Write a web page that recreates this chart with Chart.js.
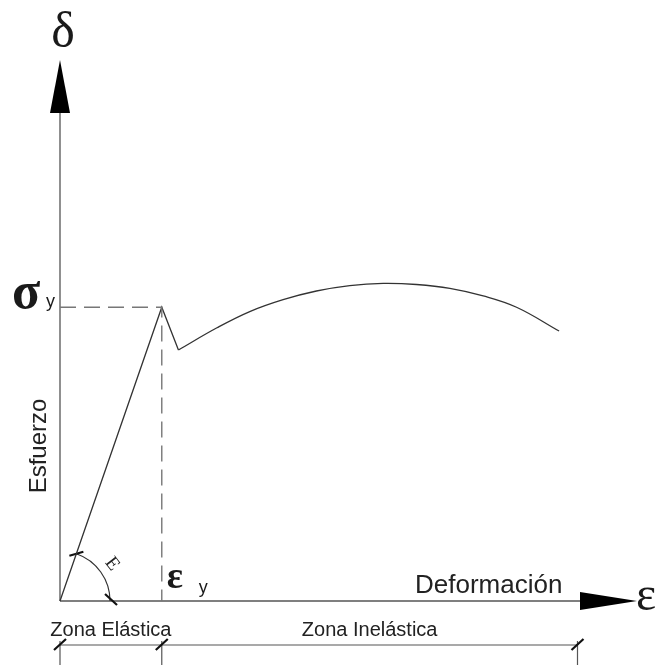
<!DOCTYPE html>
<html>
<head>
<meta charset="utf-8">
<script src="https://cdn.jsdelivr.net/npm/chart.js@4.4.1/dist/chart.umd.min.js"></script>
<style>
html,body{margin:0;padding:0;background:#fff;}
#wrap{width:670px;height:667px;}
</style>
</head>
<body>
<div id="wrap"><canvas id="c" width="670" height="667"></canvas></div>
<script>
// ---- data (schematic units) ----
const strainElastic = [0, 1.77, 2.06];
const stressElastic = [0, 5.43, 4.64];
const strainCurve = [2.06, 2.73, 3.30, 3.88, 4.46, 5.04, 5.62, 6.20, 6.78, 7.36, 7.94, 8.68];
const stressCurve = [4.64, 5.05, 5.35, 5.57, 5.73, 5.83, 5.87, 5.85, 5.78, 5.64, 5.43, 4.99];
const yieldStrain = 1.77;
const yieldStress = 5.43;
const axisEnd = 10;          // arrow tips of both axes
const zoneEnd = 9.0;         // end of inelastic zone
const arcRadius = 0.87;      // radius of the modulus arc (x units)
const labels = {
  yAxisSym: "δ", xAxisSym: "ε", yTitle: "Esfuerzo", xTitle: "Deformación",
  sigma: "σ", epsY: "ε", sub: "y", modulus: "E",
  zoneE: "Zona Elástica", zoneI: "Zona Inelástica"
};

const pts = (xs, ys) => xs.map((x, i) => ({x, y: ys[i]}));

const SANS = '"Liberation Sans", Arial, sans-serif';
const SERIF = '"Liberation Serif", "Times New Roman", serif';

const decor = {
  id: 'decor',
  beforeDatasetsDraw(chart) {
    const ctx = chart.ctx, X = chart.scales.x, Y = chart.scales.y;
    const px = v => X.getPixelForValue(v), py = v => Y.getPixelForValue(v);
    const x0 = px(0), y0 = py(0);
    ctx.save();
    ctx.strokeStyle = '#555';
    ctx.lineWidth = 1.3;
    // axes lines
    ctx.beginPath();
    ctx.moveTo(x0, y0); ctx.lineTo(x0, py(axisEnd) + 40);
    ctx.moveTo(x0, y0); ctx.lineTo(px(axisEnd) - 40, y0);
    ctx.stroke();
    // arrowheads
    ctx.fillStyle = '#000';
    ctx.beginPath();
    ctx.moveTo(x0, py(axisEnd));
    ctx.lineTo(x0 - 10, py(axisEnd) + 53);
    ctx.lineTo(x0 + 10, py(axisEnd) + 53);
    ctx.closePath(); ctx.fill();
    ctx.beginPath();
    ctx.moveTo(px(axisEnd) + 2, y0);
    ctx.lineTo(px(axisEnd) - 55, y0 - 9);
    ctx.lineTo(px(axisEnd) - 55, y0 + 9);
    ctx.closePath(); ctx.fill();

    // zone dimension line
    const zy = y0 + 44;
    ctx.strokeStyle = '#555';
    ctx.lineWidth = 1.2;
    ctx.beginPath();
    ctx.moveTo(x0, zy); ctx.lineTo(px(zoneEnd), zy);
    [0, yieldStrain, zoneEnd].forEach(v => {
      const xx = px(v);
      ctx.moveTo(xx, zy - 4); ctx.lineTo(xx, zy + 20);
    });
    ctx.stroke();
    ctx.strokeStyle = '#111';
    ctx.lineWidth = 2.2;
    ctx.beginPath();
    [0, yieldStrain, zoneEnd].forEach(v => {
      const xx = px(v);
      ctx.moveTo(xx - 6, zy + 5); ctx.lineTo(xx + 6, zy - 6);
    });
    ctx.stroke();

    // modulus arc
    const ang = Math.atan2(y0 - py(yieldStress), px(yieldStrain) - x0);
    const r = px(arcRadius) - x0;
    ctx.strokeStyle = '#333';
    ctx.lineWidth = 1.2;
    ctx.beginPath();
    ctx.arc(x0, y0, r, -ang, 0);
    ctx.stroke();
    ctx.lineWidth = 2.2;
    ctx.strokeStyle = '#111';
    const tx = x0 + r * Math.cos(ang), ty = y0 - r * Math.sin(ang);
    ctx.beginPath();
    ctx.moveTo(tx - 7, ty + 2); ctx.lineTo(tx + 7, ty - 2);
    ctx.moveTo(x0 + r - 5, y0 - 7); ctx.lineTo(x0 + r + 7, y0 + 4);
    ctx.stroke();
    ctx.restore();
  },
  afterDatasetsDraw(chart) {
    const ctx = chart.ctx, X = chart.scales.x, Y = chart.scales.y;
    const px = v => X.getPixelForValue(v), py = v => Y.getPixelForValue(v);
    const x0 = px(0), y0 = py(0);
    ctx.save();
    ctx.fillStyle = '#1a1a1a';
    ctx.textBaseline = 'alphabetic';
    // delta
    ctx.font = '50px ' + SERIF;
    ctx.textAlign = 'center';
    ctx.fillText(labels.yAxisSym, x0 + 3, py(axisEnd) - 13);
    // epsilon at x end
    ctx.textAlign = 'left';
    ctx.font = '48px ' + SERIF;
    ctx.fillText(labels.xAxisSym, px(axisEnd) + 1, y0 + 9);
    // sigma y
    ctx.font = 'bold 52px ' + SERIF;
    ctx.fillText(labels.sigma, 12, py(yieldStress) + 1);
    ctx.font = '18px ' + SANS;
    ctx.fillText(labels.sub, 46, py(yieldStress) + 0);
    // epsilon y
    ctx.font = 'bold 38px ' + SERIF;
    ctx.fillText(labels.epsY, px(yieldStrain) + 5, y0 - 13);
    ctx.font = '18px ' + SANS;
    ctx.fillText(labels.sub, px(yieldStrain) + 37, y0 - 8);
    // Deformación
    ctx.font = '26px ' + SANS;
    ctx.fillStyle = '#222';
    ctx.fillText(labels.xTitle, 415, y0 - 8);
    // Zones
    ctx.font = '20px ' + SANS;
    ctx.textAlign = 'center';
    ctx.fillText(labels.zoneE, (px(0) + px(yieldStrain)) / 2, y0 + 35);
    ctx.fillText(labels.zoneI, (px(yieldStrain) + px(zoneEnd)) / 2, y0 + 35);
    // Esfuerzo
    ctx.save();
    ctx.translate(x0 - 14, 446);
    ctx.rotate(-Math.PI / 2);
    ctx.font = '24px ' + SANS;
    ctx.textAlign = 'center';
    ctx.fillText(labels.yTitle, 0, 0);
    ctx.restore();
    // E modulus label
    ctx.save();
    ctx.translate(112, 564);
    ctx.rotate(52 * Math.PI / 180);
    ctx.font = '19px ' + SERIF;
    ctx.textAlign = 'center';
    ctx.textBaseline = 'middle';
    ctx.fillText(labels.modulus, 0, 0);
    ctx.restore();
    ctx.restore();
  }
};

new Chart(document.getElementById('c'), {
  type: 'scatter',
  data: {
    datasets: [
      {
        label: 'dashed',
        data: [{x: 0, y: yieldStress}, {x: yieldStrain, y: yieldStress}, {x: yieldStrain, y: 0}],
        showLine: true, borderColor: '#777', borderWidth: 1.4, borderDash: [16, 8],
        pointRadius: 0, tension: 0
      },
      {
        label: 'elastic',
        data: pts(strainElastic, stressElastic),
        showLine: true, borderColor: '#333', borderWidth: 1.3,
        pointRadius: 0, tension: 0
      },
      {
        label: 'inelastic',
        data: pts(strainCurve, stressCurve),
        showLine: true, borderColor: '#333', borderWidth: 1.3,
        pointRadius: 0, tension: 0.4
      }
    ]
  },
  options: {
    responsive: false,
    animation: false,
    devicePixelRatio: 1,
    layout: {padding: 0},
    plugins: {legend: {display: false}, tooltip: {enabled: false}},
    scales: {
      x: {type: 'linear', display: false, min: -1.0435, max: 10.6087},
      y: {type: 'linear', display: false, min: -1.22, max: 11.109}
    }
  },
  plugins: [decor]
});
</script>
</body>
</html>
